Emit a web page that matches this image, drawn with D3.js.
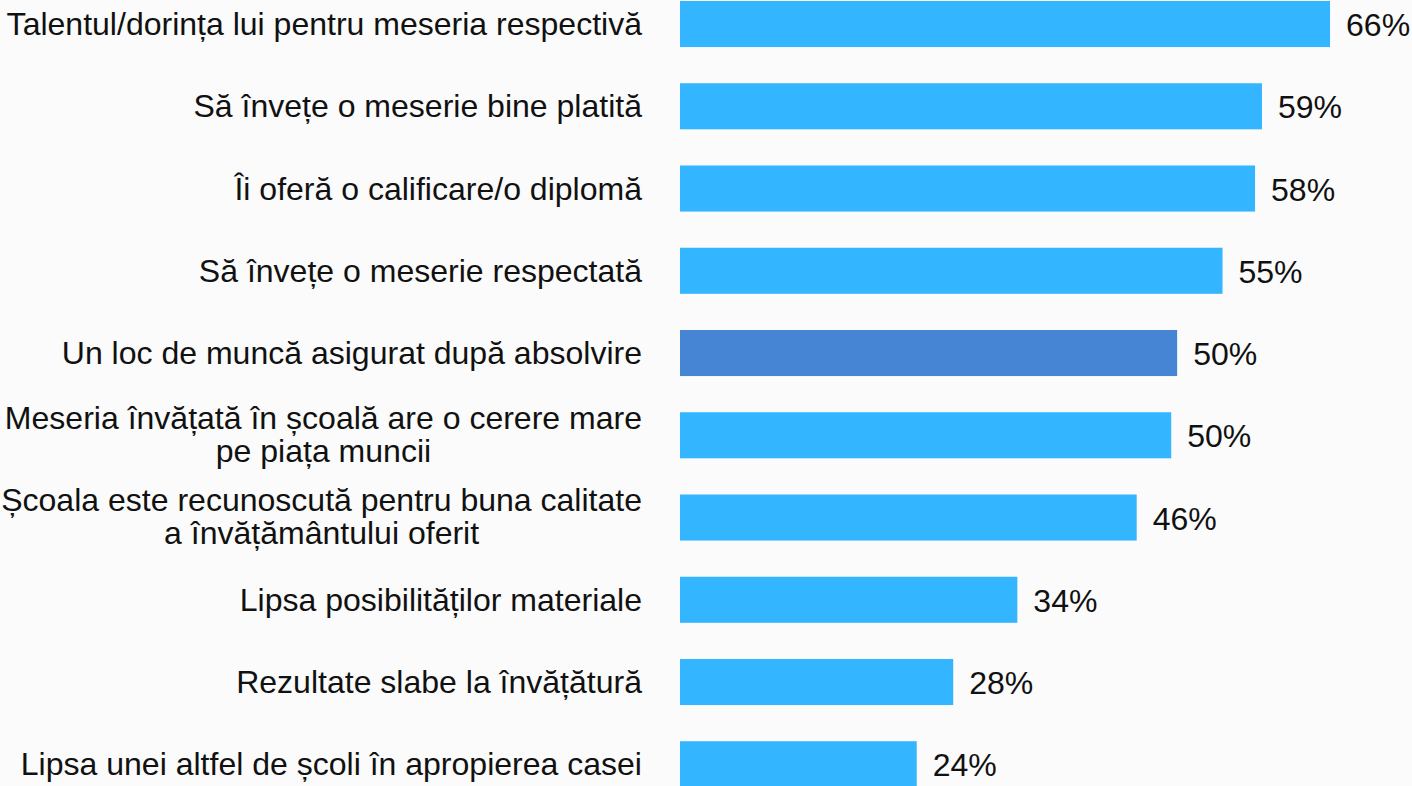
<!DOCTYPE html>
<html>
<head>
<meta charset="utf-8">
<script src="https://cdn.jsdelivr.net/npm/d3@7"></script>
<style>
  body { margin: 0; background: #fbfbfb; }
  svg { display: block; }
</style>
</head>
<body>
<div id="chart"></div>
<script>
// data
var categories = [
  "Talentul/dorința lui pentru meseria respectivă",
  "Să învețe o meserie bine platită",
  "Îi oferă o calificare/o diplomă",
  "Să învețe o meserie respectată",
  "Un loc de muncă asigurat după absolvire",
  "Meseria învățată în școală are o cerere mare\npe piața muncii",
  "Școala este recunoscută pentru buna calitate\na învățământului oferit",
  "Lipsa posibilităților materiale",
  "Rezultate slabe la învățătură",
  "Lipsa unei altfel de școli în apropierea casei"
];
var values = [65.9, 59.0, 58.3, 55.0, 50.4, 49.8, 46.3, 34.2, 27.7, 24.0];
var valueLabels = ["66%", "59%", "58%", "55%", "50%", "50%", "46%", "34%", "28%", "24%"];
var highlighted = ["Un loc de muncă asigurat după absolvire"];

document.addEventListener("DOMContentLoaded", function() {
  var width = 1412, height = 786;
  var barLeft = 680, labelRight = 642;
  var fontSize = "30.5px", stretch = 1.05; // reference text is a little wider than Arial

  var svg = d3.select("#chart")
    .append("svg")
      .attr("width", width)
      .attr("height", height)
      .style("font-family", "'Liberation Sans', Arial, sans-serif");

  var data = categories.map(function(c, i) {
    return { cat: c, value: values[i], label: valueLabels[i] };
  });

  // x scale: percent -> pixels
  var x = d3.scaleLinear()
    .domain([0, 66])
    .range([barLeft, barLeft + 651]);

  // y scale: one band per category
  var y = d3.scaleBand()
    .domain(categories)
    .range([1, 787.3])
    .paddingInner(0.44)
    .paddingOuter(0);

  // bars
  svg.selectAll("rect.bar")
    .data(data)
    .enter()
    .append("rect")
      .attr("class", "bar")
      .attr("x", x(0))
      .attr("y", function(d) { return y(d.cat); })
      .attr("width", function(d) { return x(d.value) - x(0); })
      .attr("height", y.bandwidth())
      .style("fill", function(d) {
        return highlighted.indexOf(d.cat) >= 0 ? "#4585d3" : "#33b5ff";
      });

  // value labels
  svg.selectAll("text.val")
    .data(data)
    .enter()
    .append("text")
      .attr("class", "val")
      .attr("transform", function(d) {
        return "translate(" + (x(d.value) + 16) + "," + (y(d.cat) + y.bandwidth() / 2 + 1) + ") scale(" + stretch + ",1)";
      })
      .attr("dy", "0.36em")
      .style("font-size", fontSize)
      .style("fill", "#111")
      .text(function(d) { return d.label; });

  // category labels (multi-line ones are centred within their block)
  var lineH = 33;
  data.forEach(function(d) {
    var lines = d.cat.split("\n");
    var cy = y(d.cat) + y.bandwidth() / 2;
    var g = svg.append("g")
      .attr("transform", "translate(" + labelRight + "," + cy + ") scale(" + stretch + ",1)");
    var t = g.append("text")
      .style("font-size", fontSize)
      .style("fill", "#111");
    if (lines.length === 1) {
      t.attr("dy", "0.36em")
        .attr("text-anchor", "end")
        .text(lines[0]);
    } else {
      // measure widest line, then centre each line in that block
      var probe = g.append("text").style("font-size", fontSize).text(lines[0]);
      var w = probe.node().getComputedTextLength();
      probe.remove();
      t.attr("text-anchor", "middle");
      lines.forEach(function(l, j) {
        t.append("tspan")
          .attr("x", -w / 2)
          .attr("y", (j - (lines.length - 1) / 2) * lineH - 1)
          .attr("dy", "0.36em")
          .text(l);
      });
    }
  });
});
</script>
</body>
</html>
